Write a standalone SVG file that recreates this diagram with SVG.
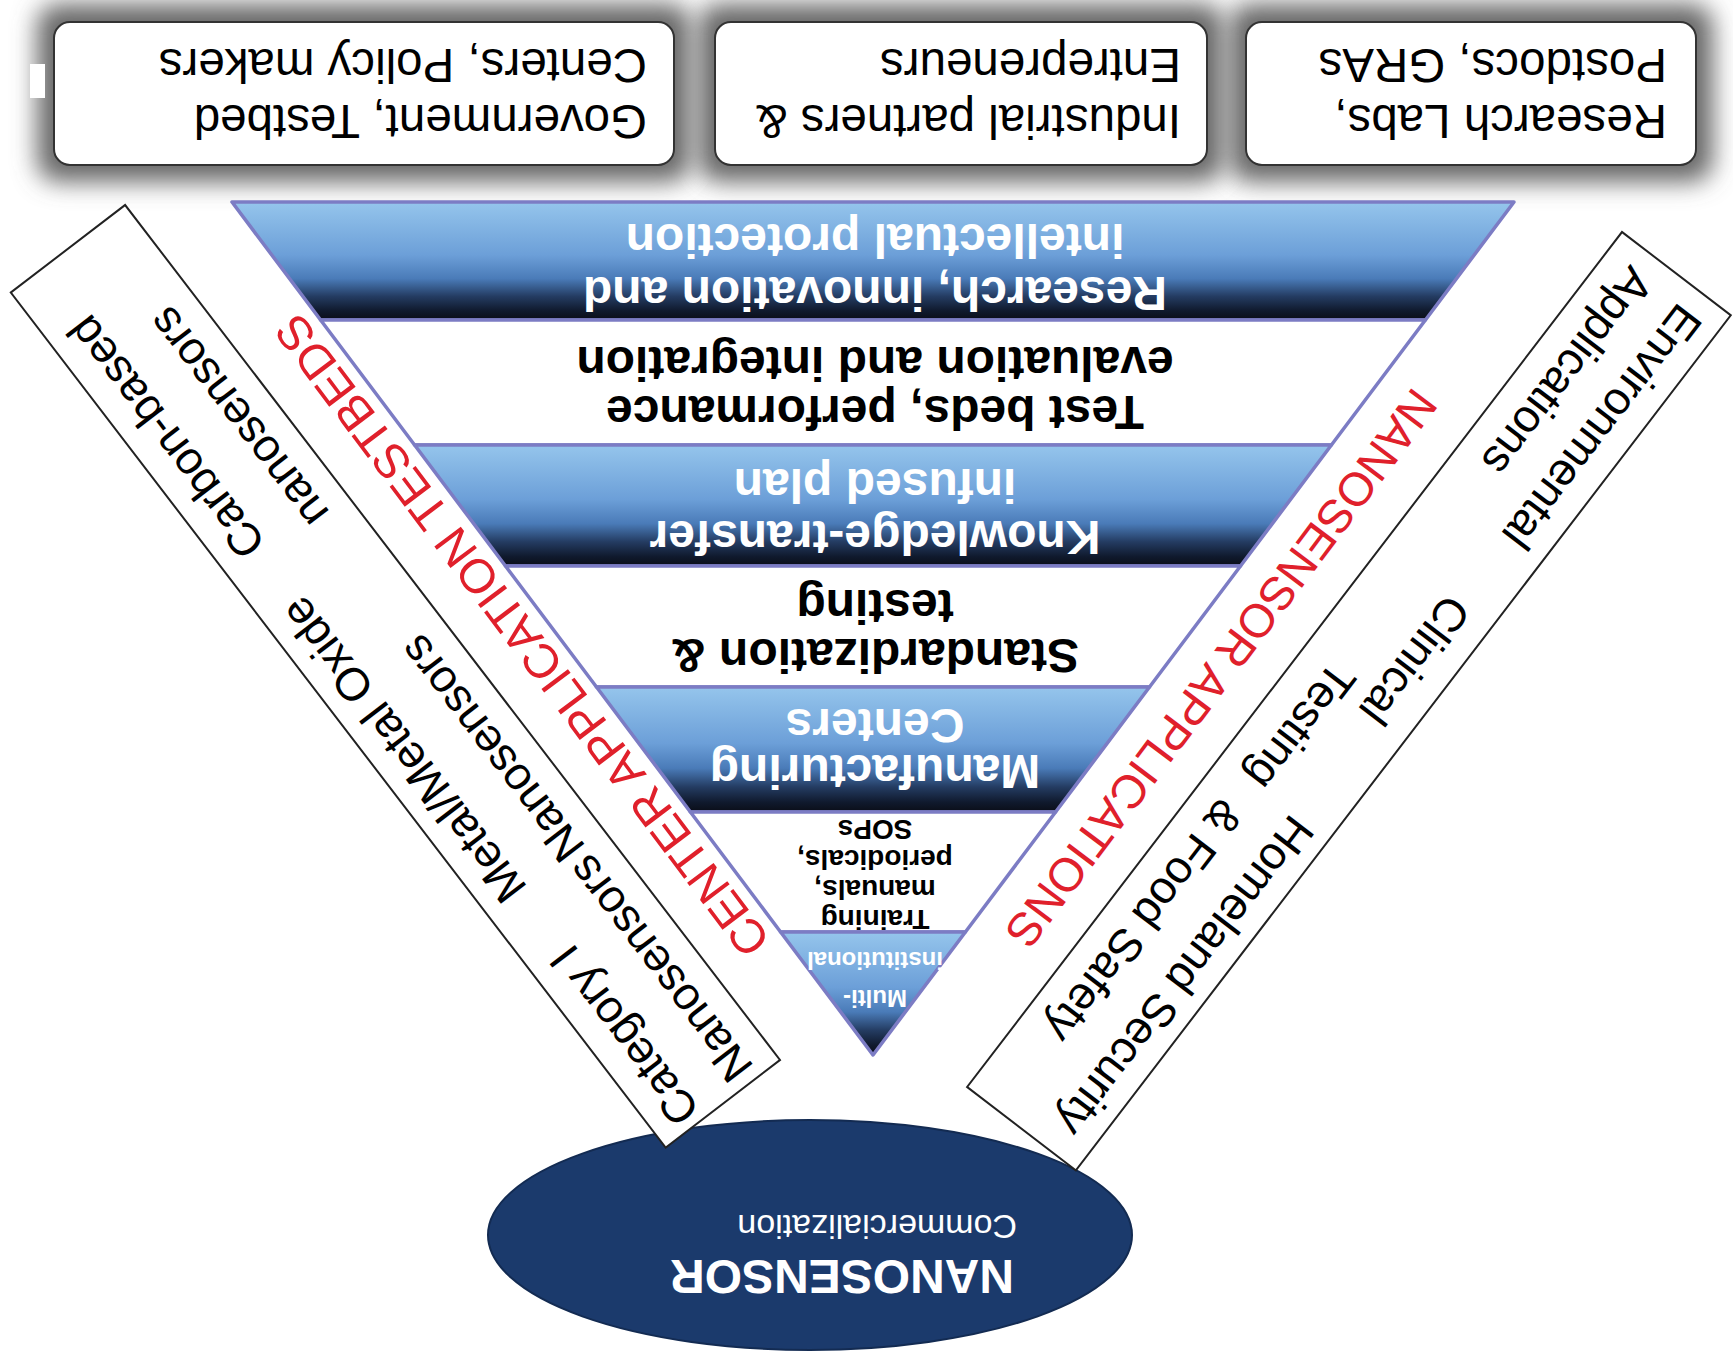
<svg xmlns="http://www.w3.org/2000/svg" width="1733" height="1356" viewBox="0 0 1733 1356">
<defs>
<linearGradient id="blueBand" x1="0" y1="0" x2="0" y2="1">
<stop offset="0" stop-color="#0a0d17"/>
<stop offset="0.08" stop-color="#101a2e"/>
<stop offset="0.2" stop-color="#243c62"/>
<stop offset="0.35" stop-color="#4a7bb8"/>
<stop offset="0.55" stop-color="#6c9fd8"/>
<stop offset="1" stop-color="#95c5ec"/>
</linearGradient>
<filter id="blur" x="-20%" y="-50%" width="140%" height="200%"><feGaussianBlur stdDeviation="12"/></filter>
<style>
.sans{font-family:"Liberation Sans",Arial,sans-serif}
.box{fill:#fff;stroke:#333;stroke-width:2}
.shd{fill:#686868;filter:url(#blur)}
.bt{font-family:"Liberation Sans",Arial,sans-serif;font-weight:bold;font-size:48px;text-anchor:middle}
.s28{font-size:28px}
.s24{font-size:24px}
.w{fill:#fff}
.k{fill:#000}
.band{stroke:#7c7cc4;stroke-width:3.5;stroke-linejoin:round}
.blue{fill:url(#blueBand)}
.white{fill:#fff}
.t46{font-family:"Liberation Sans",Arial,sans-serif;font-size:46px;fill:#000}
.t47{font-family:"Liberation Sans",Arial,sans-serif;font-size:47.5px;fill:#000}
.red{font-family:"Liberation Sans",Arial,sans-serif;font-size:48px;fill:#e0202b}
.side{fill:#fff;stroke:#222;stroke-width:2}
</style>
</defs>
<rect width="1733" height="1356" fill="#fff"/>
<g transform="rotate(180 866.5 678)">
  <g id="shadows">
    <rect class="shd" x="20" y="1174" width="484" height="178" rx="22"/>
    <rect class="shd" x="509" y="1174" width="526" height="178" rx="22"/>
    <rect class="shd" x="1042" y="1174" width="654" height="178" rx="22"/>
    <rect x="1688" y="1258" width="15" height="34" fill="#fff"/>
  </g>
  <g id="box-labs">
    <rect class="box" x="37" y="1191" width="450" height="143" rx="16"/>
    <text class="t47" x="66" y="1251">Research Labs,</text>
    <text class="t47" x="66" y="1307">Postdocs, GRAs</text>
  </g>
  <g id="box-industry">
    <rect class="box" x="526" y="1191" width="492" height="143" rx="16"/>
    <text class="t47" x="552" y="1251">Industrial partners &amp;</text>
    <text class="t47" x="552" y="1307">Entrepreneurs</text>
  </g>
  <g id="box-gov">
    <rect class="box" x="1059" y="1191" width="620" height="143" rx="16"/>
    <text class="t47" x="1086" y="1251">Government, Testbed</text>
    <text class="t47" x="1086" y="1307">Centers, Policy makers</text>
  </g>

  <g id="commercialization">
    <ellipse cx="923" cy="121" rx="322" ry="115" fill="#1b3a6c" stroke="#132b52" stroke-width="2"/>
    <text class="sans" x="719" y="96" font-size="48" font-weight="bold" fill="#fff">NANOSENSOR</text>
    <text class="sans" x="716" y="141" font-size="34" fill="#fff">Commercialization</text>
  </g>

  <g id="categories" transform="translate(953,296) rotate(52.55)">
    <rect class="side" x="0" y="-144" width="1077" height="144"/>
    <text class="t46" x="8" y="-93">Category I</text>
    <text class="t46" x="10" y="-24">Nanosensors</text>
    <text class="t46" x="290" y="-95">Metal/Metal Oxide</text>
    <text class="t46" x="287" y="-24">Nanosensors</text>
    <text class="t46" x="722" y="-93">Carbon-based</text>
    <text class="t46" x="708" y="-24">nanosensors</text>
  </g>
  <g id="applications" transform="translate(111,1124) rotate(-52.55)">
    <rect class="side" x="0" y="-137" width="1077" height="137"/>
    <text class="t46" x="20" y="-87">Environmental</text>
    <text class="t46" x="20" y="-26">Applications</text>
    <text class="t46" x="392" y="-80">Clinical</text>
    <text class="t46" x="515" y="-30">Testing</text>
    <text class="t46" x="662" y="-90">Homeland Security</text>
    <text class="t46" x="692" y="-24">&amp; Food Safety</text>
  </g>

  <g id="band-research">
    <polygon class="band blue" points="307.6,1036 1412.4,1036 1501,1154 219,1154"/>
    <text class="bt w" x="858" y="1079">Research, innovation and</text>
    <text class="bt w" x="858" y="1132">intellectual protection</text>
  </g>
  <g id="band-testbeds">
    <polygon class="band white" points="401.6,911 1318.4,911 1412.4,1036 307.6,1036"/>
    <text class="bt k" x="858" y="960">Test beds, performance</text>
    <text class="bt k" x="858" y="1009">evaluation and integration</text>
  </g>
  <g id="band-knowledge">
    <polygon class="band blue" points="492.5,790 1227.5,790 1318.4,911 401.6,911"/>
    <text class="bt w" x="858" y="835">Knowledge-transfer</text>
    <text class="bt w" x="858" y="887">infused plan</text>
  </g>
  <g id="band-standard">
    <polygon class="band white" points="583.5,669 1136.5,669 1227.5,790 492.5,790"/>
    <text class="bt k" x="858" y="717">Standardization &amp;</text>
    <text class="bt k" x="858" y="766">testing</text>
  </g>
  <g id="band-manufacturing">
    <polygon class="band blue" points="677.4,544 1042.6,544 1136.5,669 583.5,669"/>
    <text class="bt w" x="858" y="601">Manufacturing</text>
    <text class="bt w" x="858" y="647">Centers</text>
  </g>
  <g id="band-training">
    <polygon class="band white" points="767.6,424 952.4,424 1042.6,544 677.4,544"/>
    <text class="bt k s28" x="858" y="446">Training</text>
    <text class="bt k s28" x="858" y="476">manuals,</text>
    <text class="bt k s28" x="858" y="506">periodicals,</text>
    <text class="bt k s28" x="858" y="536">SOPs</text>
  </g>
  <g id="band-multi">
    <polygon class="band blue" points="860,301 952.4,424 767.6,424"/>
    <text class="bt w s24" x="858" y="366">Multi-</text>
    <text class="bt w s24" x="858" y="404">institutional</text>
  </g>

  <g id="label-center" transform="translate(860,301) rotate(53.07)">
    <text class="red" x="152" y="-12">CENTER APPLICATION TESTBEDS</text>
  </g>
  <g id="label-nanosensor" transform="translate(219,1154) rotate(-53.07)">
    <text class="red" x="207" y="-30" style="font-size:47px">NANOSENSOR APPLICATIONS</text>
  </g>
</g>
</svg>
